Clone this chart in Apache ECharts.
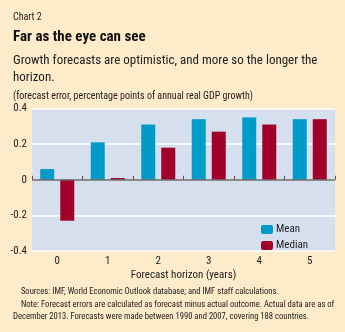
<!DOCTYPE html>
<html><head><meta charset="utf-8">
<script src="https://cdn.jsdelivr.net/npm/echarts@6/dist/echarts.min.js"></script>
<style>html,body{margin:0;padding:0;background:#FDEBC9;}#c{width:345px;height:332px;}</style>
</head><body><div id="c"></div>
<script>
var categories = ['0','1','2','3','4','5'];
var meanValues = [0.06, 0.21, 0.31, 0.34, 0.35, 0.34];
var medianValues = [-0.23, 0.01, 0.18, 0.27, 0.31, 0.34];
var yTicks = [-0.4, -0.2, 0, 0.2, 0.4];

var F = '"Liberation Sans Narrow", "Roboto Condensed", "Liberation Sans", sans-serif';
var chart = echarts.init(document.getElementById('c'));
chart.setOption({
  backgroundColor: '#FDEBC9',
  animation: false,
  textStyle: {fontFamily: F},
  title: [
    {text: 'Chart 2', left: 8, top: 7, textStyle: {fontSize: 10, fontWeight: 'normal', color: '#222', fontFamily: F}},
    {text: 'Far as the eye can see', left: 8, top: 25, textStyle: {fontSize: 15, fontWeight: 'bold', color: '#111', fontFamily: F}},
    {text: 'Growth forecasts are optimistic, and more so the longer the\nhorizon.', left: 8, top: 47, textStyle: {fontSize: 13, fontWeight: 'normal', color: '#222', lineHeight: 17, fontFamily: F}},
    {text: '(forecast error, percentage points of annual real GDP growth)', left: 8, top: 86, textStyle: {fontSize: 10, fontWeight: 'normal', color: '#222', fontFamily: F}},
    {text: '    Sources: IMF, World Economic Outlook database; and IMF staff calculations.\n    Note: Forecast errors are calculated as forecast minus actual outcome. Actual data are as of\nDecember 2013. Forecasts were made between 1990 and 2007, covering 188 countries.', left: 8, top: 281, textStyle: {fontSize: 8.6, fontWeight: 'normal', color: '#222', lineHeight: 12.3, fontFamily: F}}
  ],
  legend: {
    orient: 'vertical', left: 256, top: 219, itemWidth: 12, itemHeight: 9, itemGap: 5,
    textStyle: {fontSize: 11, color: '#222', fontFamily: F, padding: [0,0,0,-2]},
    data: ['Mean', 'Median']
  },
  grid: {left: 32, right: 10, top: 108.5, bottom: 81, show: true, backgroundColor: '#D6DFEE', borderWidth: 0},
  xAxis: {
    type: 'category', data: categories,
    name: 'Forecast horizon (years)', nameLocation: 'middle', nameGap: 19,
    nameTextStyle: {fontSize: 11, color: '#222', fontFamily: F},
    axisLine: {show: false},
    axisTick: {show: true, inside: true, length: 4, lineStyle: {color: '#555'}},
    axisLabel: {fontSize: 11, color: '#222', margin: 5, fontFamily: F},
    position: 'bottom', offset: 0
  },
  yAxis: {
    type: 'value', min: -0.4, max: 0.4, interval: 0.2,
    axisLine: {show: false}, axisTick: {show: false},
    axisLabel: {fontSize: 11, color: '#222', margin: 5, fontFamily: F,
      formatter: function(v){ var r = Math.round(v*10)/10; return r === 0 ? '0' : r.toFixed(1); }},
    splitLine: {lineStyle: {color: '#ffffff', width: 1.5}}
  },
  series: [
    {name: 'Mean', type: 'bar', data: meanValues, barWidth: 14, barGap: '43%', itemStyle: {color: '#009BC6'},
     markLine: {silent: true, symbol: 'none', label: {show: false}, lineStyle: {color: '#666', type: 'solid', width: 1.5}, data: [{yAxis: 0}]}},
    {name: 'Median', type: 'bar', data: medianValues, barWidth: 14, itemStyle: {color: '#A0002A'}}
  ]
});
</script></body></html>
